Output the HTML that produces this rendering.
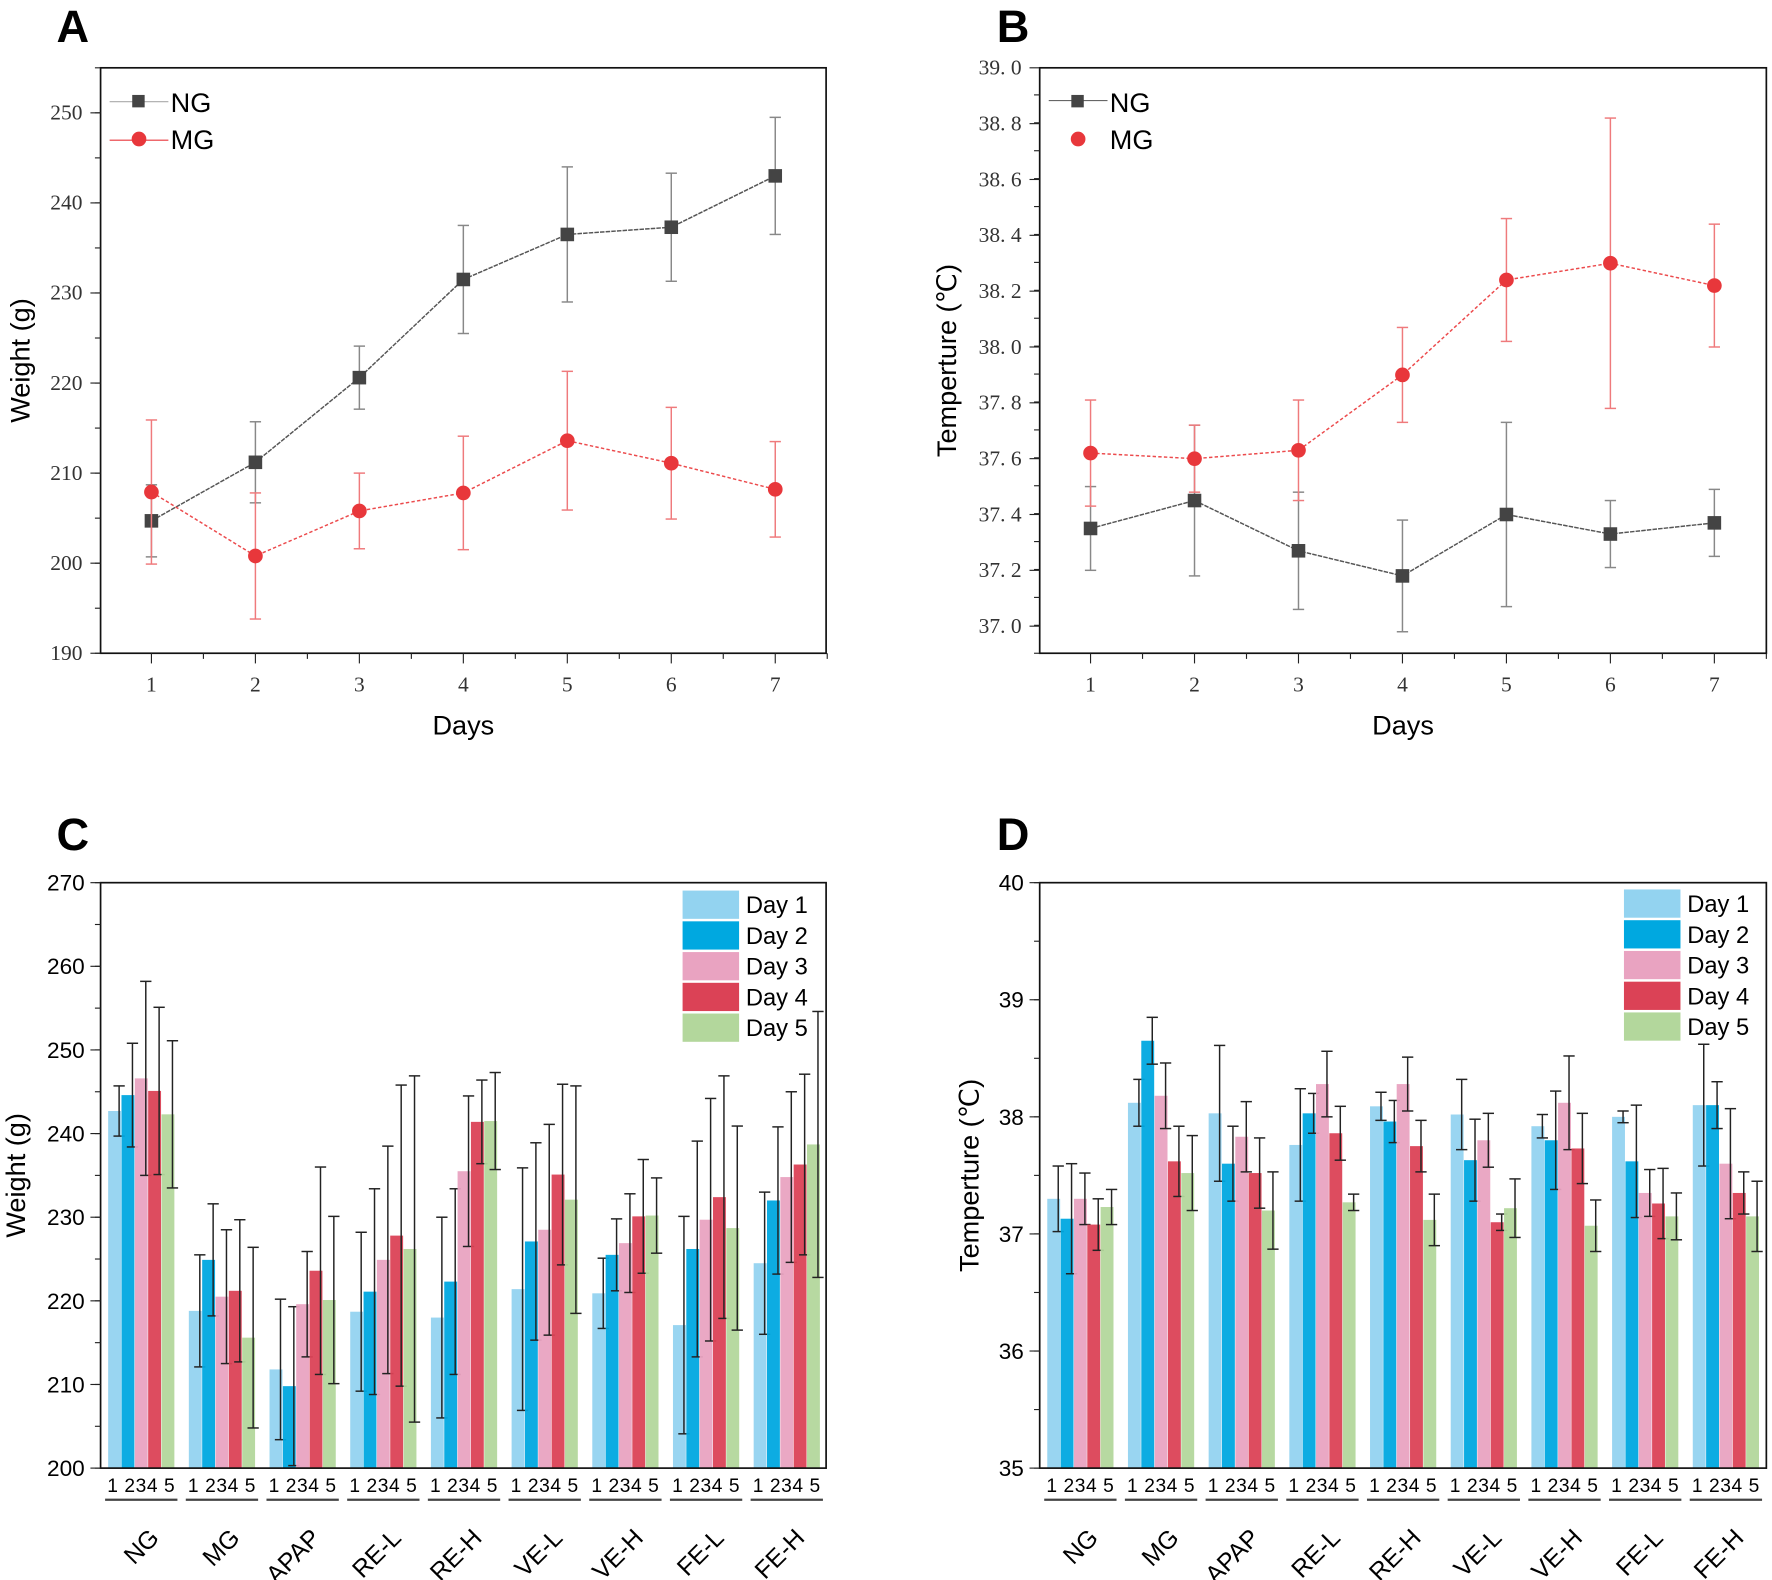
<!DOCTYPE html>
<html><head><meta charset="utf-8"><style>
html,body{margin:0;padding:0;background:#fff}
svg{display:block}
text{font-family:"Liberation Sans",sans-serif}
.serif{font-family:"Liberation Serif",serif}
</style></head><body>
<svg id="fig" width="1772" height="1580" viewBox="0 0 1568 1398" preserveAspectRatio="none" xmlns="http://www.w3.org/2000/svg"></svg>
<script>
// ---- Panel A data ----
const daysA = [1,2,3,4,5,6,7];
const aNG = [204.7,211.2,220.6,231.5,236.5,237.3,243.0];
const aNGerr = [4,4.5,3.5,6,7.5,6,6.5];
const aMG = [207.9,200.8,205.8,207.8,213.6,211.1,208.2];
const aMGerr = [8,7,4.2,6.3,7.7,6.2,5.3];
const aTicks = [190,200,210,220,230,240,250];
// ---- Panel B data ----
const bNG = [37.35,37.45,37.27,37.18,37.40,37.33,37.37];
const bNGerr = [0.15,0.27,0.21,0.2,0.33,0.12,0.12];
const bMG = [37.62,37.60,37.63,37.90,38.24,38.30,38.22];
const bMGerr = [0.19,0.12,0.18,0.17,0.22,0.52,0.22];
const bTicks = ["37. 0","37. 2","37. 4","37. 6","37. 8","38. 0","38. 2","38. 4","38. 6","38. 8","39. 0"];
// ---- Panel C/D data ----
const groups = ["NG","MG","APAP","RE-L","RE-H","VE-L","VE-H","FE-L","FE-H"];
const seriesNames = ["Day 1","Day 2","Day 3","Day 4","Day 5"];
const cVals = [
 [242.7,244.6,246.6,245.1,242.3],[218.8,224.9,220.5,221.2,215.6],[211.8,209.8,219.6,223.6,220.1],
 [218.7,221.1,224.9,227.8,226.2],[218.0,222.3,235.5,241.4,241.5],[221.4,227.1,228.5,235.1,232.1],
 [220.9,225.5,226.9,230.1,230.2],[217.1,226.2,229.7,232.4,228.7],[224.5,232.0,234.8,236.3,238.7]];
const cErr = [
 [3,6.2,11.6,10,8.8],[6.7,6.7,8,8.5,10.8],[8.4,9.5,6.3,12.4,10],
 [9.5,12.3,13.6,18,20.7],[12,11.1,9,5,5.8],[14.5,11.8,12.6,10.8,13.6],
 [4.2,4.3,5.9,6.8,4.5],[13,12.9,14.5,14.5,12.2],[8.5,8.8,10.2,10.8,15.9]];
const cTicks = [200,210,220,230,240,250,260,270];
const dVals = [
 [37.3,37.13,37.3,37.08,37.23],[38.12,38.65,38.18,37.62,37.52],[38.03,37.6,37.83,37.52,37.2],
 [37.76,38.03,38.28,37.86,37.27],[38.09,37.96,38.28,37.75,37.12],[38.02,37.63,37.8,37.1,37.22],
 [37.92,37.8,38.12,37.73,37.07],[38.0,37.62,37.35,37.26,37.15],[38.1,38.1,37.6,37.35,37.15]];
const dErr = [
 [0.28,0.47,0.22,0.22,0.15],[0.2,0.2,0.28,0.3,0.32],[0.58,0.32,0.3,0.3,0.33],
 [0.48,0.17,0.28,0.23,0.07],[0.12,0.18,0.23,0.22,0.22],[0.3,0.35,0.23,0.07,0.25],
 [0.1,0.42,0.4,0.3,0.22],[0.05,0.48,0.2,0.3,0.2],[0.52,0.2,0.47,0.18,0.3]];
const dTicks = [35,36,37,38,39,40];

const NS="http://www.w3.org/2000/svg";
const svg=document.getElementById('fig');
function el(tag,attrs,parent,txt){const e=document.createElementNS(NS,tag);for(const k in attrs)e.setAttribute(k,attrs[k]);if(txt!==undefined)e.textContent=txt;(parent||svg).appendChild(e);return e;}
const colors=["#93d3f0","#00a8e0","#e9a3c1","#db4256","#b3d79c"];

function letter(x,y,t){const e=el('text',{x:x,y:y,'font-size':40,'font-weight':'bold'},svg,t);

}
letter(50,37,"A");letter(882,37,"B");letter(50,752,"C");letter(882,752,"D");

function frame(g,x0,y0,x1,y1){const r=el('rect',{x:x0,y:y0,width:x1-x0,height:y1-y0,fill:'none',stroke:'#111','stroke-width':1.5},g);
}

// ---- line panels ----
function linePanel(name,x0,y0,x1,y1,ymin,ymax,tickVals,tickLabels,minorStep,ng,ngE,mg,mgE,ylabel,ylx,legendLine){
 const g=el('g',{});
 const sx=d=>x0+45+(d-1)*92, sy=v=>y1-(v-ymin)/(ymax-ymin)*(y1-y0);
 frame(g,x0,y0,x1,y1);
 for(let v=ymin;v<=ymax+1e-9;v+=minorStep){el('line',{x1:x0,x2:x0-5,y1:sy(v),y2:sy(v),stroke:'#222'},g);}
 tickVals.forEach((v,i)=>{el('line',{x1:x0,x2:x0-9,y1:sy(v),y2:sy(v),stroke:'#222'},g);
  const t=el('text',{x:x0-16,y:sy(v)+6,'font-size':19,'text-anchor':'end',fill:'#333',class:'serif'},g,tickLabels[i]);
  });
 daysA.forEach(d=>{el('line',{x1:sx(d),x2:sx(d),y1:y1,y2:y1+9,stroke:'#222'},g);
  el('line',{x1:sx(d)+46,x2:sx(d)+46,y1:y1,y2:y1+5,stroke:'#222'},g);
  const t=el('text',{x:sx(d),y:y1+34,'font-size':19,'text-anchor':'middle',fill:'#333',class:'serif'},g,d);
  });
 const xt=el('text',{x:(x0+x1)/2,y:y1+72,'font-size':24,'text-anchor':'middle'},g,'Days');
 
 const yt=el('text',{x:0,y:0,'font-size':24,'text-anchor':'middle',transform:`translate(${ylx},${(y0+y1)/2}) rotate(-90)`},g,ylabel);
 
 function series(vals,errs,col,ecol,dash,marker,sname){
  const sg=el('g',{},g);
  vals.forEach((v,i)=>{const x=sx(daysA[i]);
   el('line',{x1:x,x2:x,y1:sy(v-errs[i]),y2:sy(v+errs[i]),stroke:ecol,'stroke-width':1.3},sg);
   [v-errs[i],v+errs[i]].forEach(e=>el('line',{x1:x-5,x2:x+5,y1:sy(e),y2:sy(e),stroke:ecol,'stroke-width':1.3},sg));});
  el('polyline',{points:vals.map((v,i)=>sx(daysA[i])+','+sy(v)).join(' '),fill:'none',stroke:col,'stroke-width':1.3,'stroke-dasharray':dash},sg);
  vals.forEach((v,i)=>{let m;const x=sx(daysA[i]);
   if(marker==='sq')m=el('rect',{x:x-6,y:sy(v)-6,width:12,height:12,fill:'#444'},sg);
   else m=el('circle',{cx:x,cy:sy(v),r:6.5,fill:'#e8373b'},sg);
   });
 }
 series(ng,ngE,'#555','#888','4 1','sq','ng');
 series(mg,mgE,'#ec4a4c','#ef7a7c','3 2','ci','mg');
 const lg=el('g',{},g);
 const lx=x0+8;
 if(legendLine)el('line',{x1:lx,x2:lx+52,y1:y0+30,y2:y0+30,stroke:'#aaa'},lg);
 else el('line',{x1:lx,x2:lx+52,y1:y0+29,y2:y0+29,stroke:'#666'},lg);
 el('rect',{x:lx+20,y:y0+24,width:11,height:11,fill:'#444'},lg);
 if(legendLine)el('line',{x1:lx,x2:lx+52,y1:y0+64,y2:y0+64,stroke:'#e8373b'},lg);
 el('circle',{cx:lx+26,cy:y0+63,r:6.5,fill:'#e8373b'},lg);
 el('text',{x:lx+54,y:y0+39,'font-size':24},lg,'NG');
 el('text',{x:lx+54,y:y0+72,'font-size':24},lg,'MG');
}
linePanel('weight-line-chart',89,60,731,578,190,255,aTicks,aTicks,5,aNG,aNGerr,aMG,aMGerr,'Weight (g)',26,true);
linePanel('temperature-line-chart',920,60,1563,578,36.903,39.0,bTicks.map(s=>parseFloat(s.replace(' ',''))),bTicks,0.1,bNG,bNGerr,bMG,bMGerr,'Temperture (℃)',846,false);

// ---- bar panels ----
function barPanel(name,x0,y0,x1,y1,ymin,ymax,ticks,minor,vals,errs,ylabel,ylx,legX,legY){
 const g=el('g',{});
 const sy=v=>y1-(v-ymin)/(ymax-ymin)*(y1-y0);
 const gx=i=>x0+36+i*71.4;
 vals.forEach((grp,gi)=>{const gg=el('g',{},g);
  grp.forEach((v,si)=>{const cx=gx(gi)-23.6+si*11.8;
   const b=el('rect',{x:cx-5.7,y:sy(v),width:11.4,height:y1-sy(v),fill:colors[si],opacity:0.95},gg);
   
   const e=errs[gi][si],lo=Math.max(ymin,v-e);
   el('line',{x1:cx+4,x2:cx+4,y1:sy(lo),y2:sy(v+e),stroke:'#222','stroke-width':1.3},gg);
   [v-e,v+e].forEach(w=>{if(w>=ymin)el('line',{x1:cx-1,x2:cx+9,y1:sy(w),y2:sy(w),stroke:'#222','stroke-width':1.3},gg);});
  });
  const t=el('text',{x:gx(gi),y:y1+21,'font-size':17,'letter-spacing':0.5,'text-anchor':'middle'},g,'1 234 5');
  
  el('line',{x1:gx(gi)-32,x2:gx(gi)+32,y1:y1+28,y2:y1+28,stroke:'#444','stroke-width':2},g);
  const gl=el('text',{x:0,y:0,'font-size':22,'text-anchor':'end',transform:`translate(${gx(gi)+17},${y1+63}) rotate(-45)`},g,groups[gi]);
  
 });
 frame(g,x0,y0,x1,y1);
 for(let v=ymin;v<=ymax+1e-9;v+=minor)el('line',{x1:x0,x2:x0-5,y1:sy(v),y2:sy(v),stroke:'#222'},g);
 ticks.forEach(v=>{el('line',{x1:x0,x2:x0-9,y1:sy(v),y2:sy(v),stroke:'#222'},g);
  const t=el('text',{x:x0-14,y:sy(v)+7,'font-size':20,'text-anchor':'end'},g,v);
  });
 const yt=el('text',{x:0,y:0,'font-size':24,'text-anchor':'middle',transform:`translate(${ylx},${(y0+y1)/2}) rotate(-90)`},g,ylabel);
 
 const lg=el('g',{},g);
 seriesNames.forEach((s,i)=>{const y=legY+i*27.2;
  el('rect',{x:legX,y:y,width:50,height:25,fill:colors[i]},lg);
  const t=el('text',{x:legX+56,y:y+20,'font-size':21},lg,s);
  });
}
barPanel('weight-bar-chart',89,781,731,1299,200,270,cTicks,5,cVals,cErr,'Weight (g)',22,604,788);
barPanel('temperature-bar-chart',920,781,1563,1299,35,40,dTicks,0.5,dVals,dErr,'Temperture (℃)',866,1437,787);
</script>
</body></html>
